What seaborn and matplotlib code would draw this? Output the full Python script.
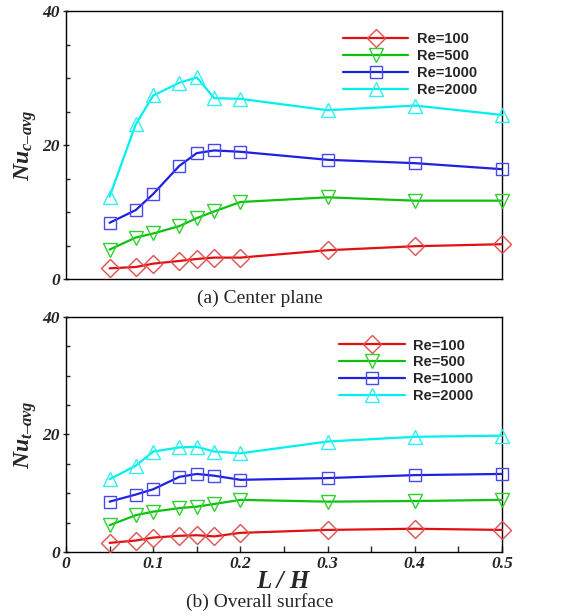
import numpy as np
import matplotlib
matplotlib.use("Agg")
import matplotlib.pyplot as plt
import seaborn as sns
from matplotlib.ticker import MultipleLocator
from matplotlib.font_manager import FontProperties

# L/H positions shared by every curve
l_over_h = [0.05, 0.08, 0.10, 0.13, 0.15, 0.17, 0.20, 0.30, 0.40, 0.50]

# (a) center plane
nu_c_re100 = [1.6, 1.8, 2.3, 2.7, 3.0, 3.2, 3.2, 4.3, 4.9, 5.2]
nu_c_re500 = [4.4, 6.2, 6.8, 7.9, 9.1, 10.1, 11.5, 12.2, 11.7, 11.7]
nu_c_re1000 = [8.4, 10.3, 12.7, 16.9, 18.8, 19.2, 19.0, 17.8, 17.3, 16.4]
nu_c_re2000 = [12.3, 23.1, 27.4, 29.3, 30.1, 27.0, 26.9, 25.2, 25.9, 24.5]

# (b) overall surface
nu_t_re100 = [1.6, 2.0, 2.5, 2.8, 2.9, 2.7, 3.3, 3.8, 4.0, 3.8]
nu_t_re500 = [4.6, 6.3, 6.9, 7.5, 7.75, 8.2, 8.9, 8.6, 8.7, 8.9]
nu_t_re1000 = [8.6, 9.8, 10.7, 12.8, 13.3, 13.0, 12.3, 12.6, 13.1, 13.3]
nu_t_re2000 = [12.4, 14.7, 17.1, 17.8, 17.9, 17.1, 16.8, 18.8, 19.6, 19.8]

labels = ["Re=100", "Re=500", "Re=1000", "Re=2000"]
colors = ["#e01010", "#10c010", "#2020e0", "#00f0f0"]
edge_colors = ["#e05050", "#30d030", "#4848f0", "#30f0f0"]
markers = ["D", "v", "s", "^"]
msizes = [9, 10, 8, 10]

sns.set_style("ticks")
plt.rcParams["mathtext.fontset"] = "custom"
plt.rcParams["mathtext.it"] = "Liberation Serif:italic:bold"
plt.rcParams["mathtext.rm"] = "Liberation Serif:bold"
plt.rcParams["mathtext.bf"] = "Liberation Serif:bold"

fig = plt.figure(figsize=(5.79, 6.16), dpi=100)
ax1 = fig.add_axes([0.114, 0.547, 0.753, 0.435])
ax2 = fig.add_axes([0.114, 0.1034, 0.753, 0.3826])

tick_font = dict(family="Liberation Serif", weight="bold", style="italic", size=12.5)


def draw_panel(ax, series, ylabel, legend_xy):
    for vals, lab, c, ec, m, ms in zip(series, labels, colors, edge_colors, markers, msizes):
        sns.lineplot(x=l_over_h, y=vals, ax=ax, color=c, linewidth=1.6,
                     marker=m, markersize=ms, markerfacecolor="none",
                     markeredgecolor=ec, markeredgewidth=1.0, label=lab,
                     clip_on=False, zorder=3)
    ax.set_xlim(0, 0.5)
    ax.set_ylim(0, 40)
    ax.yaxis.set_major_locator(MultipleLocator(20))
    ax.yaxis.set_minor_locator(MultipleLocator(5))
    ax.tick_params(axis="y", which="major", direction="inout", length=5, width=1, pad=2)
    ax.tick_params(axis="y", which="minor", direction="in", length=3, width=1)
    for sp in ax.spines.values():
        sp.set_visible(True)
        sp.set_linewidth(1.0)
        sp.set_color("black")
    ax.set_ylabel(ylabel, fontsize=17)
    ax.yaxis.set_label_coords(-0.062, 0.5)
    ax.legend(loc="upper left", bbox_to_anchor=legend_xy, frameon=False,
              handlelength=4.5, handletextpad=0.6, labelspacing=0.2,
              borderpad=0, borderaxespad=0,
              prop=dict(family="Liberation Sans", weight="bold", size=10.5))


draw_panel(ax1, [nu_c_re100, nu_c_re500, nu_c_re1000, nu_c_re2000],
           r"$Nu_{c–avg}$", (0.635, 0.922))
ax1.xaxis.set_major_locator(MultipleLocator(0.1))
ax1.tick_params(axis="x", which="both", bottom=False, labelbottom=False)

draw_panel(ax2, [nu_t_re100, nu_t_re500, nu_t_re1000, nu_t_re2000],
           r"$Nu_{t–avg}$", (0.626, 0.907))
ax2.xaxis.set_minor_locator(MultipleLocator(0.05))
ax2.tick_params(axis="x", which="both", direction="in", length=4, width=1, pad=3)
ax2.set_xticks([0, 0.1, 0.2, 0.3, 0.4, 0.5])
ax2.set_xticklabels(["0", "0.1", "0.2", "0.3", "0.4", "0.5"], **tick_font)
ax2.set_xlabel("L / H", family="Liberation Serif", weight="bold", style="italic",
               fontsize=18)
ax2.xaxis.set_label_coords(0.498, -0.075)

for ax in (ax1, ax2):
    for lbl in ax.get_yticklabels():
        lbl.set_fontproperties(FontProperties(**tick_font))

fig.text(0.449, 0.516, "(a) Center plane", family="Liberation Serif",
         fontsize=14, ha="center", va="center")
fig.text(0.449, 0.022, "(b) Overall surface", family="Liberation Serif",
         fontsize=14, ha="center", va="center")

fig.savefig("out.png", dpi=100)
